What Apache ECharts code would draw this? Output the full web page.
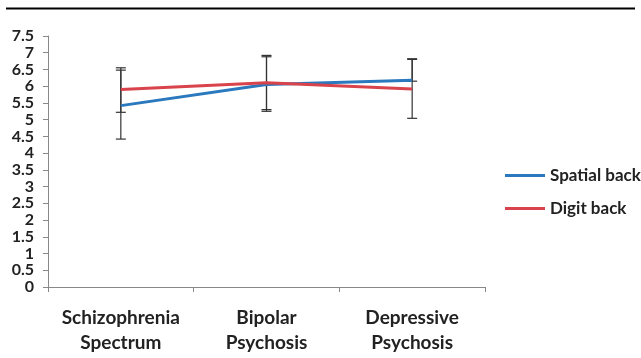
<!DOCTYPE html>
<html><head><meta charset="utf-8">
<script src="https://cdn.jsdelivr.net/npm/echarts@6/dist/echarts.min.js"></script>
<style>html,body{margin:0;padding:0;background:#fff}#c{width:641px;height:358px}</style>
</head><body><div id="c"></div>
<script>
var categories = ['Schizophrenia\nSpectrum', 'Bipolar\nPsychosis', 'Depressive\nPsychosis'];
var spatialBack = [5.42, 6.05, 6.18];
var digitBack = [5.9, 6.1, 5.92];
var spatialLow = [4.42, 5.25, 6.15];
var spatialHigh = [6.48, 6.88, 6.82];
var digitLow = [5.22, 5.3, 5.04];
var digitHigh = [6.55, 6.92, 6.8];

var chart = echarts.init(document.getElementById('c'));
var FONT = 'Lato, "Open Sans", sans-serif';
function errSeries(name, low, high) {
  return {
    type: 'custom', name: name + ' err', silent: true, z: 1,
    data: low.map(function (l, i) { return [i, l, high[i]]; }),
    renderItem: function (params, api) {
      var lo = api.coord([api.value(0), api.value(1)]);
      var hi = api.coord([api.value(0), api.value(2)]);
      var w = 5;
      var st = { stroke: '#333', lineWidth: 1.2 };
      return { type: 'group', children: [
        { type: 'line', shape: { x1: lo[0], y1: lo[1], x2: hi[0], y2: hi[1] }, style: st },
        { type: 'line', shape: { x1: lo[0] - w, y1: lo[1], x2: lo[0] + w, y2: lo[1] }, style: st },
        { type: 'line', shape: { x1: hi[0] - w, y1: hi[1], x2: hi[0] + w, y2: hi[1] }, style: st }
      ]};
    }
  };
}
chart.setOption({
  animation: false,
  textStyle: { fontFamily: FONT },
  graphic: [{ type: 'line', shape: { x1: 6, y1: 8.5, x2: 635, y2: 8.5 }, style: { stroke: '#000', lineWidth: 2 } }],
  grid: { left: 48, right: 156, top: 36, bottom: 71 },
  legend: {
    orient: 'vertical', left: 500, top: 162, itemGap: 16, itemWidth: 40, itemHeight: 3,
    icon: 'rect',
    data: ['Spatial back', 'Digit back'],
    textStyle: { fontFamily: FONT, fontWeight: 'bold', fontSize: 17, color: '#222' }
  },
  xAxis: {
    type: 'category', data: categories, boundaryGap: true,
    axisLine: { lineStyle: { color: '#888', width: 1 } },
    axisTick: { show: true, length: 5, lineStyle: { color: '#888' } },
    axisLabel: { interval: 0, hideOverlap: false, fontFamily: FONT, fontWeight: 'bold', fontSize: 19, color: '#222', margin: 18, lineHeight: 25 }
  },
  yAxis: {
    type: 'value', min: 0, max: 7.5, interval: 0.5,
    splitLine: { show: false },
    axisLine: { show: true, lineStyle: { color: '#888', width: 1 } },
    axisTick: { show: true, length: 5, lineStyle: { color: '#888' } },
    axisLabel: { showMinLabel: true, showMaxLabel: true, fontFamily: FONT, fontWeight: 'bold', fontSize: 16, lineHeight: 14, color: '#222', margin: 14 }
  },
  series: [
    errSeries('Spatial back', spatialLow, spatialHigh),
    errSeries('Digit back', digitLow, digitHigh),
    { name: 'Spatial back', type: 'line', data: spatialBack, symbol: 'none', z: 3,
      lineStyle: { color: '#2a78bd', width: 3 }, itemStyle: { color: '#2a78bd' } },
    { name: 'Digit back', type: 'line', data: digitBack, symbol: 'none', z: 3,
      lineStyle: { color: '#d9434b', width: 3 }, itemStyle: { color: '#d9434b' } }
  ]
});
</script></body></html>
